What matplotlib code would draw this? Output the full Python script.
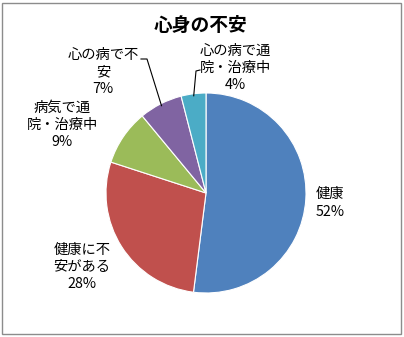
import numpy as np
import matplotlib.pyplot as plt
from matplotlib.patches import Rectangle

plt.rcParams['font.family'] = ['Noto Sans CJK JP', 'DejaVu Sans']

# data
labels = ['健康', '健康に不\n安がある', '病気で通\n院・治療中', '心の病で不\n安', '心の病で通\n院・治療中']
values = [52, 28, 9, 7, 4]
colors = ['#4F81BD', '#C0504D', '#9BBB59', '#8064A2', '#4BACC6']
title = '心身の不安'

W, H = 404, 337
fig = plt.figure(figsize=(W / 100, H / 100), dpi=100)
fig.patches.append(Rectangle((2 / W, 3 / H), (W - 5) / W, (H - 6) / H, transform=fig.transFigure,
                             fill=False, edgecolor='#8c8c8c', linewidth=1.0))

# pie centre (206,193) px from top-left, radius 100 px
cx, cy, r = 206, 193, 100
ax = fig.add_axes([(cx - r) / W, (H - cy - r) / H, 2 * r / W, 2 * r / H])
wedges, _ = ax.pie(values, colors=colors, startangle=90, counterclock=False, radius=1,
                   wedgeprops=dict(edgecolor='white', linewidth=0.8))
ax.set_xlim(-1, 1)
ax.set_ylim(-1, 1)
ax.set_aspect('equal')
ax.axis('off')

def px(x, y):
    return ((x - cx) / r, (cy - y) / r)

fig.text(201 / W, 1 - 25 / H, title, ha='center', va='center', fontsize=13.5, fontweight='bold')

# label text centres in px
text_pos = [(330, 203), (82, 267), (62, 125), (103, 72), (235, 68)]
for i, (lab, v) in enumerate(zip(labels, values)):
    tx, ty = px(*text_pos[i])
    ax.text(tx, ty, f'{lab}\n{v}%', ha='center', va='center', fontsize=10.3,
            linespacing=1.3, clip_on=False)

# leader lines for the two small slices
for i, pts in [(3, [(147, 59), (141, 59)]), (4, [(196, 71), (200, 70)])]:
    w = wedges[i]
    ang = np.deg2rad((w.theta1 + w.theta2) / 2)
    xs = [np.cos(ang) * 0.98] + [px(*p)[0] for p in pts]
    ys = [np.sin(ang) * 0.98] + [px(*p)[1] for p in pts]
    ax.plot(xs, ys, color='black', linewidth=0.8, clip_on=False)

fig.savefig('out.png', dpi=100)
